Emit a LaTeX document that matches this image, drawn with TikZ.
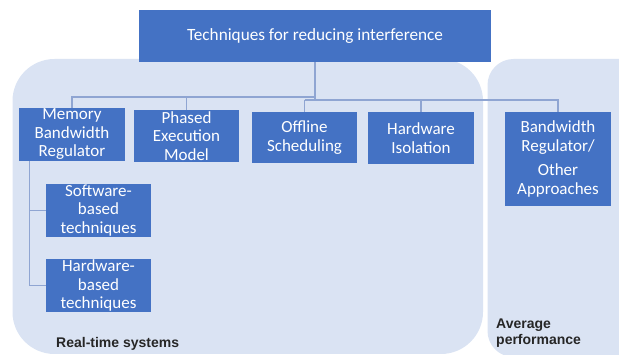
\documentclass[tikz,border=0pt]{standalone}
\usepackage{fontspec}
\setmainfont{Carlito}
\newfontfamily\labelfont{Liberation Sans}
\definecolor{boxblue}{HTML}{4472C4}
\definecolor{panelblue}{HTML}{DAE3F3}
\definecolor{linkblue}{HTML}{8FA5D2}

\begin{document}
\begin{tikzpicture}[x=1pt,y=-1pt,
  techbox/.style={fill=boxblue, text=white, inner sep=0pt, align=center,
    font=\fontsize{17}{18.5}\selectfont},
  link/.style={draw=linkblue, line width=1.1pt},
  caption/.style={font=\labelfont\bfseries\fontsize{14}{16}\selectfont,
    text=black!85, anchor=base west, align=left, inner sep=0pt}]
\useasboundingbox (0,0) rectangle (619,355);

% background groups
\fill[panelblue, rounded corners=42pt] (12.5,59) rectangle (483,354);
\fill[panelblue, rounded corners=26pt] (487.5,59) rectangle (645,357);

% root
\node[techbox, minimum width=352pt, minimum height=52pt,
  font=\fontsize{17.2}{19}\selectfont] (root) at (315,36)
  {Techniques for reducing interference};

% first level
\node[techbox, minimum width=106pt, minimum height=53pt] (mbr) at (72,134.5)
  {Memory\\Bandwidth\\Regulator};
\node[techbox, minimum width=105pt, minimum height=52pt] (pem) at (186.5,136)
  {Phased\\Execution\\Model};
\node[techbox, minimum width=105pt, minimum height=51pt] (ofs) at (304.5,137.5)
  {Offline\\Scheduling};
\node[techbox, minimum width=106pt, minimum height=52pt] (hwi) at (421,138)
  {Hardware\\Isolation};
\node[techbox, minimum width=106pt, minimum height=94pt] (bwr) at (558,159)
  {Bandwidth\\Regulator/\\[6pt]Other\\Approaches};

% second level under the regulator
\node[techbox, minimum width=105pt, minimum height=53pt] (swb) at (98.5,210.5)
  {Software-\\based\\techniques};
\node[techbox, minimum width=105pt, minimum height=53pt] (hwb) at (98.5,285.5)
  {Hardware-\\based\\techniques};

% connectors
\coordinate (jl) at (315,97);
\coordinate (jr) at (315,100);
\draw[link] (root.south) -- (jr);
\draw[link] (jl) -| (mbr.north);
\draw[link] (jl) -| (pem.north);
\draw[link] (jr -| ofs.north) -| (bwr.north);
\draw[link] (jr -| ofs.north) -- (ofs.north);
\draw[link] (jr -| hwi.north) -- (hwi.north);
\draw[link] ([xshift=11pt]mbr.south west) |- (swb.west);
\draw[link] ([xshift=11pt]mbr.south west) |- (hwb.west);

% group captions
\node[caption] (rts) at (56,348) {Real-time systems};
\node[caption] (avg) at (496,345) {Average\\performance};
\end{tikzpicture}
\end{document}
